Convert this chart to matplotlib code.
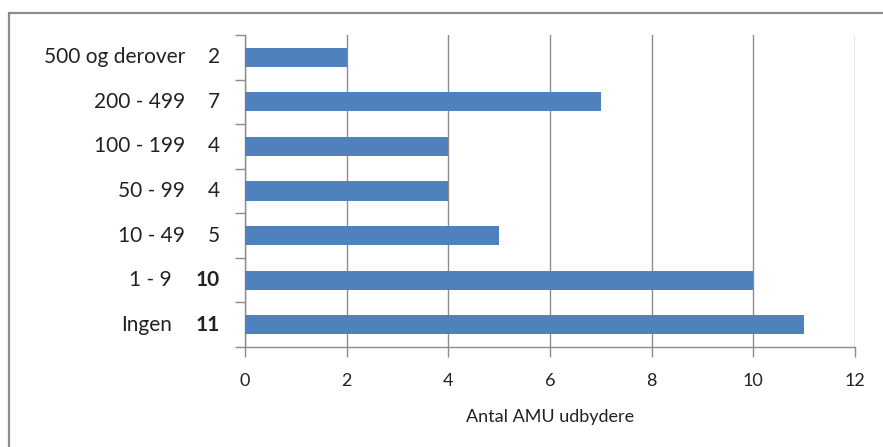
import matplotlib
matplotlib.use("Agg")
import matplotlib.pyplot as plt
from matplotlib.patches import Rectangle
from matplotlib.transforms import blended_transform_factory

# Number of AMU providers by size group
categories = ["Ingen", "1 - 9", "10 - 49", "50 - 99", "100 - 199", "200 - 499", "500 og derover"]
counts = [11, 10, 5, 4, 4, 7, 2]
x_ticks = [0, 2, 4, 6, 8, 10, 12]

plt.rcParams["font.family"] = ["Lato", "DejaVu Sans"]

W, H = 883, 447
fig = plt.figure(figsize=(W / 100, H / 100), dpi=100)
fig.patch.set_facecolor("white")

# outer frame (left and top edges visible)
fig.patches.append(Rectangle((9 / W, -0.1), 1.2, 1 - 13 / H + 0.1,
                             transform=fig.transFigure, fill=False,
                             edgecolor="#8c8c8c", linewidth=1.6))

ax = fig.add_axes([245 / W, 1 - 347 / H, 610 / W, 312 / H])

y = list(range(len(categories)))
ax.barh(y, counts, height=0.43, color="#4F81BD", zorder=3)

ax.set_xlim(0, 12)
ax.set_ylim(-0.5, len(categories) - 0.5)
ax.set_xticks(x_ticks)
ax.set_xticklabels([str(t) for t in x_ticks], fontsize=13, color="#222222")
ax.tick_params(axis="x", length=7, width=1, color="#8c8c8c", pad=12, direction="out")

# category boundary ticks on the y-axis
ax.set_yticks([i - 0.5 for i in range(len(categories) + 1)])
ax.set_yticklabels([])
ax.tick_params(axis="y", length=7, width=1, color="#8c8c8c", direction="out")

ax.grid(axis="x", color="#8c8c8c", linewidth=1, zorder=0)
for side in ["top", "right"]:
    ax.spines[side].set_visible(False)
for side in ["left", "bottom"]:
    ax.spines[side].set_color("#8c8c8c")
    ax.spines[side].set_linewidth(1)

# two-column row labels: group name and count
trans = blended_transform_factory(ax.transAxes, ax.transData)
for i, (name, n) in enumerate(zip(categories, counts)):
    bold = n >= 10
    ax.text(-25 / 610, i, str(n), transform=trans, ha="right", va="center",
            fontsize=15, color="#222222", fontweight="bold" if bold else "normal")
    name_x = -73 / 610 if bold else -60 / 610
    ax.text(name_x, i, name, transform=trans, ha="right", va="center",
            fontsize=15, color="#222222")

ax.set_xlabel("Antal AMU udbydere", fontsize=13, color="#222222", labelpad=14)

fig.savefig("out.png", dpi=100, facecolor="white")
